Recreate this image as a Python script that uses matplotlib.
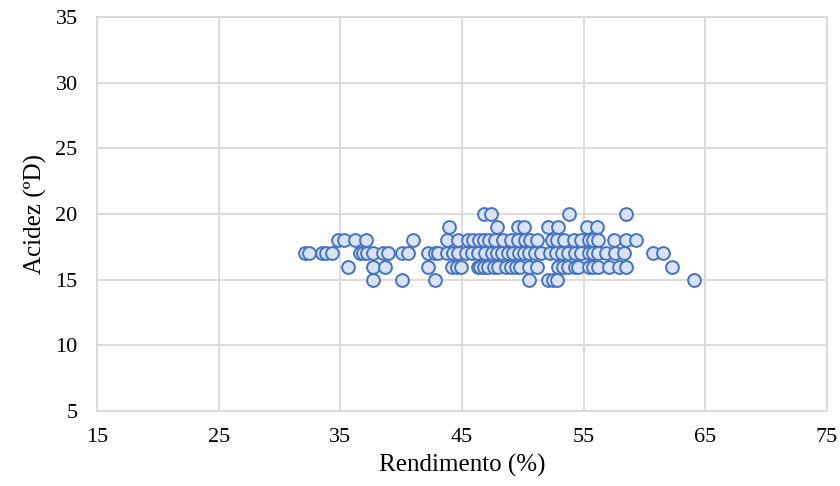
import numpy as np
import matplotlib.pyplot as plt

plt.rcParams['font.family'] = ['Liberation Serif', 'DejaVu Serif']

# rendimento (%) per acidity level
rend20 = [46.8, 47.4, 53.8, 58.5]
rend19 = [43.9, 47.9, 49.6, 50.1, 52.1, 52.9, 55.3, 56.1]
rend18 = [34.8, 35.3, 36.2, 37.1, 41.0, 43.8, 44.7, 45.5, 45.9, 46.4, 46.8, 47.2,
          47.7, 48.4, 49.0, 49.6, 50.2, 50.6, 51.2, 52.4, 52.8, 53.4, 54.2, 54.8,
          55.4, 55.8, 56.2, 57.5, 58.5, 59.3]
rend17 = [32.1, 32.4, 33.5, 33.8, 34.3, 36.6, 36.9, 37.2, 37.7, 38.5, 38.9, 40.1,
          40.6, 42.2, 42.8, 43.0, 43.8, 44.3, 44.7, 45.3, 45.8, 46.3, 46.9, 47.5,
          47.9, 48.3, 48.8, 49.2, 49.7, 50.1, 50.5, 51.0, 51.5, 52.2, 52.7, 53.2,
          53.7, 54.3, 54.8, 55.4, 55.8, 56.2, 56.8, 57.6, 58.3, 60.7, 61.5]
rend16 = [35.6, 37.7, 38.7, 42.2, 44.2, 44.6, 44.9, 46.3, 46.5, 46.8, 47.1, 47.6,
          48.0, 48.6, 49.0, 49.4, 49.8, 50.5, 51.2, 52.9, 53.3, 53.7, 54.3, 54.5,
          55.4, 55.8, 56.2, 57.1, 57.9, 58.5, 62.3]
rend15 = [37.7, 40.1, 42.8, 50.5, 52.1, 52.5, 52.8, 64.1]

x = np.array(rend20 + rend19 + rend18 + rend17 + rend16 + rend15)
y = np.array([20]*len(rend20) + [19]*len(rend19) + [18]*len(rend18) +
             [17]*len(rend17) + [16]*len(rend16) + [15]*len(rend15))

fig = plt.figure(figsize=(8.4, 4.86), dpi=100)
ax = fig.add_axes([0.1155, 0.154, 0.869, 0.811])

ax.scatter(x, y, s=85, facecolor='#DAE3F3', edgecolor='#4472C4', linewidths=1.4, zorder=3)

ax.set_xlim(15, 75)
ax.set_ylim(5, 35)
ax.set_xticks(np.arange(15, 76, 10))
ax.set_yticks(np.arange(5, 36, 5))
ax.grid(True, color='#D9D9D9', linewidth=1.3, zorder=0)
for s in ax.spines.values():
    s.set_color('#D9D9D9')
    s.set_linewidth(1.3)
ax.tick_params(axis='x', length=0, labelsize=16, pad=12)
ax.tick_params(axis='y', length=0, labelsize=16, pad=14)
ax.set_xlabel('Rendimento (%)', fontsize=18, labelpad=5)
ax.set_ylabel('Acidez (ºD)', fontsize=18, labelpad=6)

plt.savefig('out.png', dpi=100)
